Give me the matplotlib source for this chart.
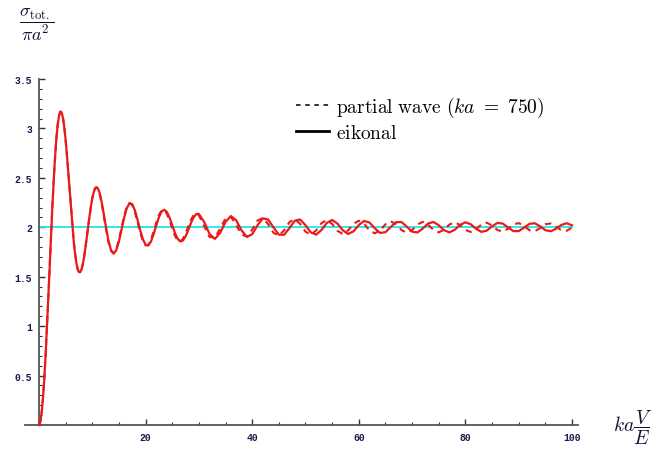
import numpy as np
import matplotlib.pyplot as plt
from matplotlib.lines import Line2D
from matplotlib.ticker import MultipleLocator

plt.rcParams['mathtext.fontset'] = 'cm'

# sample positions (ka V/E)
x_fine = np.arange(0, 12.01, 0.25)
x_mid = np.arange(12.5, 30.01, 0.5)
x_far = np.arange(31, 101, 1)

# eikonal curve
eik_fine = [0.0, 0.0311, 0.1233, 0.2726, 0.4729, 0.7160, 0.9920, 1.2898, 1.5976,
            1.9032, 2.1952, 2.4627, 2.6963, 2.8883, 3.0332, 3.1275, 3.1702, 3.1626,
            3.1081, 3.0121, 2.8818, 2.7252, 2.5516, 2.3704, 2.1907, 2.0213, 1.8698,
            1.7427, 1.6447, 1.5788, 1.5462, 1.5463, 1.5769, 1.6341, 1.7129, 1.8075,
            1.9112, 2.0176, 2.1202, 2.2129, 2.2912, 2.3507, 2.3888, 2.4040, 2.3965,
            2.3678, 2.3203, 2.2572, 2.1832]
eik_mid = [2.0213, 1.8729, 1.7707, 1.7346, 1.7679, 1.8579, 1.9796, 2.1026, 2.1976,
           2.2439, 2.2335, 2.1711, 2.0748, 1.9686, 1.8779, 1.8233, 1.8158, 1.8547,
           1.9285, 2.0181, 2.1014, 2.1588, 2.1776, 2.1549, 2.0978, 2.0212, 1.9441,
           1.8848, 1.8567, 1.8654, 1.9074, 1.9713, 2.0411, 2.0999, 2.1337, 2.1355]
eik_far = [2.0525, 1.9317, 1.8825, 1.9442, 2.0552, 2.1137, 2.0703, 1.9689, 1.9031, 1.9297,
           2.0202, 2.0905, 2.0783, 1.9984, 1.9253, 1.9243, 1.9931, 2.0669, 2.0790, 2.0210,
           1.9478, 1.9258, 1.9729, 2.0439, 2.0740, 2.0374, 1.9695, 1.9326, 1.9589, 2.0225,
           2.0647, 2.0480, 1.9894, 1.9431, 1.9506, 2.0034, 2.0524, 2.0533, 2.0067, 1.9561,
           1.9475, 1.9874, 2.0384, 2.0539, 2.0207, 1.9703, 1.9488, 1.9749, 2.0237, 2.0504,
           2.0312, 1.9847, 1.9538, 1.9660, 2.0094, 2.0437, 2.0380, 1.9984, 1.9616, 1.9610,
           1.9963, 2.0347, 2.0411, 2.0104, 1.9713, 1.9595, 1.9852, 2.0242, 2.0408, 2.0203]

# partial wave curve (ka = 750)
pw_fine = eik_fine[:40] + [2.3005, 2.3576, 2.3928, 2.4046, 2.3935, 2.3613, 2.3104,
                           2.2444, 2.1681]
pw_mid = [2.0044, 1.8585, 1.7625, 1.7351, 1.7776, 1.8750, 2.0003, 2.1217, 2.2102,
          2.2463, 2.2244, 2.1522, 2.0502, 1.9441, 1.8599, 1.8165, 1.8224, 1.8738,
          1.9559, 2.0472, 2.1248, 2.1703, 2.1738, 2.1361, 2.0680, 1.9875, 1.9148,
          1.8675, 1.8563, 1.8826, 1.9384, 2.0089, 2.0759, 2.1229, 2.1388, 2.1206]
pw_far = [2.0114, 1.9022, 1.8938, 1.9878, 2.0909, 2.1065, 2.0246, 1.9267, 1.9051, 1.9763,
          2.0685, 2.0939, 2.0314, 1.9440, 1.9155, 1.9704, 2.0529, 2.0831, 2.0343, 1.9561,
          1.9246, 1.9683, 2.0421, 2.0740, 2.0345, 1.9643, 1.9324, 1.9683, 2.0350, 2.0664,
          2.0331, 1.9696, 1.9388, 1.9699, 2.0305, 2.0601, 2.0305, 1.9726, 1.9442, 1.9726,
          2.0281, 2.0549, 2.0271, 1.9738, 1.9487, 1.9762, 2.0274, 2.0505, 2.0230, 1.9737,
          1.9527, 1.9804, 2.0278, 2.0465, 2.0182, 1.9727, 1.9564, 1.9853, 2.0290, 2.0426,
          2.0129, 1.9711, 1.9603, 1.9909, 2.0306, 2.0385, 2.0069, 1.9693, 1.9646, 1.9970]

asymptote = 2.0
yticks = [0.5, 1, 1.5, 2, 2.5, 3, 3.5]
ytick_labels = ['0.5', '1', '1.5', '2', '2.5', '3', '3.5']
xticks = [20, 40, 60, 80, 100]

x = np.concatenate([x_fine, x_mid, x_far])
eik = np.array(eik_fine + eik_mid + eik_far)
pw = np.array(pw_fine + pw_mid + pw_far)

fig = plt.figure(figsize=(6.56, 4.52), dpi=100)
ax = fig.add_axes([0.0383, 0.0575, 0.8434, 0.7655])
ax.set_xlim(-2.6, 101.2)
ax.set_ylim(0, 3.5)

red = '#e81a1a'
ax.plot([0, 100], [asymptote, asymptote], color='#1ee6f0', lw=1.3, zorder=2)
ax.plot(x, pw, color=red, lw=1.5, ls=(0, (3, 2.5)), zorder=3, clip_on=False)
ax.plot(x, eik, color=red, lw=1.6, zorder=4, clip_on=False)

for side in ['top', 'right']:
    ax.spines[side].set_visible(False)
ax.spines['left'].set_position(('data', 0))
ax.spines['bottom'].set_position(('data', 0))
for side in ['left', 'bottom']:
    ax.spines[side].set_color('#555555')
    ax.spines[side].set_linewidth(1.3)

ax.set_xticks(xticks)
ax.set_yticks(yticks)
ax.set_yticklabels(ytick_labels)
ax.xaxis.set_minor_locator(MultipleLocator(5))
ax.yaxis.set_minor_locator(MultipleLocator(0.1))
ax.tick_params(which='major', direction='in', length=4, width=1, color='#333333',
               labelsize=7, labelcolor='#1a1a4a', pad=5)
ax.tick_params(which='minor', direction='in', length=2.5, width=0.8, color='#333333')
for lab in ax.get_xticklabels() + ax.get_yticklabels():
    lab.set_family('Liberation Mono')
    lab.set_fontweight('bold')

fig.text(37 / 656, 1 - 24 / 452, r'$\dfrac{\sigma_{\mathrm{tot.}}}{\pi a^2}$',
         ha='center', va='center', fontsize=13, color='#111133')
fig.text(633 / 656, 1 - 428 / 452, r'$ka\dfrac{V}{E}$',
         ha='center', va='center', fontsize=14, color='#111133')

handles = [Line2D([], [], color='black', lw=1.1, ls=(0, (3, 3))),
           Line2D([], [], color='black', lw=2.0)]
labels = [r'$\mathrm{partial\ wave}\ (ka\ =\ 750)$', r'$\mathrm{eikonal}$']
ax.legend(handles, labels, loc='upper left', bbox_to_anchor=(296 / 656, 1 - 96 / 452),
          bbox_transform=fig.transFigure, frameon=False, fontsize=14,
          handlelength=1.7, handletextpad=0.35, borderpad=0, borderaxespad=0,
          labelspacing=0.18)

fig.savefig('out.png', dpi=100)
